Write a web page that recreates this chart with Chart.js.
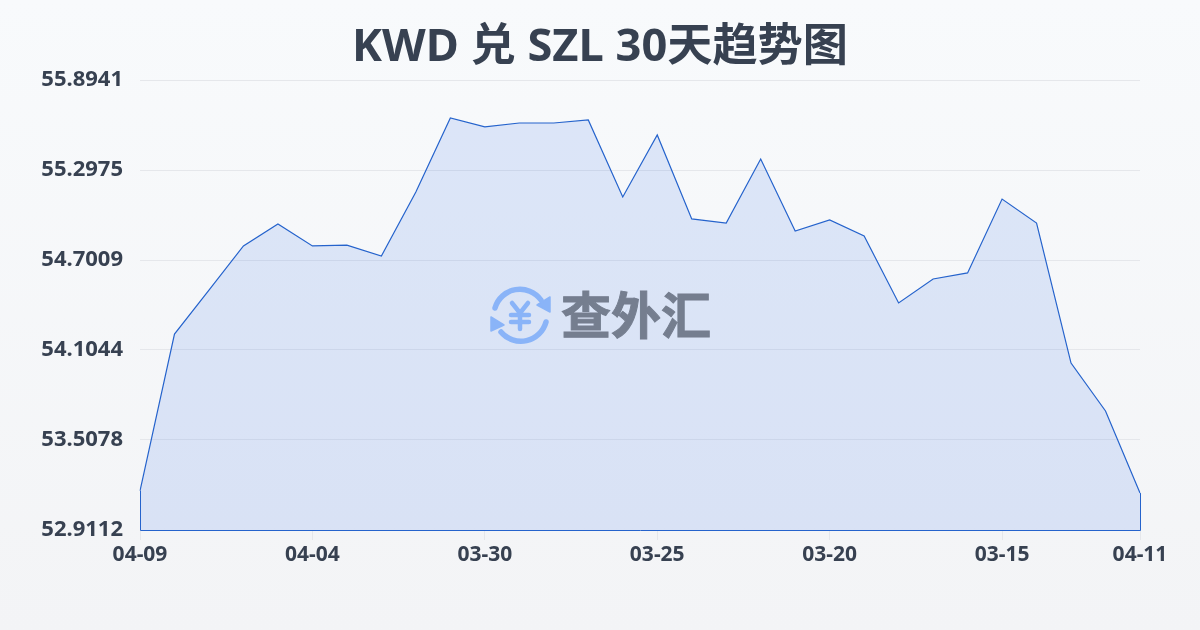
<!DOCTYPE html>
<html lang="zh">
<head>
<meta charset="utf-8">
<title>KWD 兑 SZL 30天趋势图</title>
<style>
  html, body { margin: 0; padding: 0; }
  body { width: 1200px; height: 630px; overflow: hidden; position: relative;
         background: linear-gradient(180deg, #f8fafc 0%, #f3f4f6 100%); }
  #trendChart { display: block; }
  #chartTitle { position: absolute; left: 0; top: 17px; width: 1200px; margin: 0; text-align: center;
                font: 700 45.2px/54px "Noto Sans", "Noto Sans CJK SC", sans-serif; color: #374151; }
  #watermark { position: absolute; left: 0; top: 0; pointer-events: none; }
</style>
</head>
<body>
<canvas id="trendChart" width="1200" height="630"></canvas>
<h1 id="chartTitle">KWD 兑 SZL 30天趋势图</h1>
<svg id="watermark" width="1200" height="630" xmlns="http://www.w3.org/2000/svg">
  <g fill="none" stroke="#8ab4f8" stroke-width="5.5" stroke-linecap="round" stroke-linejoin="round">
    <path d="M495 308 A26 26 0 0 1 541 300"/>
    <path d="M546 322 A26 26 0 0 1 501 332"/>
    <path d="M512 303 L520 313 L528 303 M511 315 H529 M511 322 H529 M520 313 V329" stroke-width="4.5"/>
  </g>
  <path d="M550 297 V312 L537 305 Z M491 317 V331 L504 325 Z" fill="#8ab4f8" stroke="#8ab4f8" stroke-width="1.5" stroke-linejoin="round"/>
  <text x="636" y="334" text-anchor="middle" font-family="Noto Sans CJK SC" font-weight="700" font-size="50" fill="#757e8f" stroke="#757e8f" stroke-width="1">查外汇</text>
</svg>

<script src="https://cdn.jsdelivr.net/npm/chart.js@4"></script>
<script>
const categories = [
  '04-09','04-08','04-07','04-06','04-05','04-04','04-03','04-02','04-01','03-31',
  '03-30','03-29','03-28','03-27','03-26','03-25','03-24','03-23','03-22','03-21',
  '03-20','03-19','03-18','03-17','03-16','03-15','03-14','03-13','03-12','04-11',
];
const rates = [
  53.170, 54.210, 54.502, 54.794, 54.940, 54.794, 54.800, 54.727, 55.152, 55.642,
  55.583, 55.609, 55.609, 55.629, 55.119, 55.530, 54.973, 54.946, 55.370, 54.893,
  54.966, 54.860, 54.416, 54.575, 54.615, 55.105, 54.946, 54.018, 53.700, 53.156,
];
const yTicks = [52.9112, 53.5078, 54.1044, 54.7009, 55.2975, 55.8941];
const xTickIndexes = [0, 5, 10, 15, 20, 25, 29];

const LINE = '#2563cc';
const INK = '#374151';
const FONT = '"Noto Sans", "Noto Sans CJK SC", sans-serif';

// line also runs down both sides and along the bottom of the area
const outline = {
  id: 'outline',
  afterDatasetsDraw(chart) {
    const { ctx, scales: { x, y } } = chart;
    const base = y.getPixelForValue(yTicks[0]) + 0.5;
    const last = rates.length - 1;
    const left = x.getPixelForValue(0) + 0.5;
    const right = x.getPixelForValue(last) + 0.5;
    ctx.save();
    ctx.strokeStyle = LINE;
    ctx.lineWidth = 1;
    ctx.beginPath();
    ctx.moveTo(left, y.getPixelForValue(rates[0]));
    ctx.lineTo(left, base);
    ctx.lineTo(right, base);
    ctx.lineTo(right, y.getPixelForValue(rates[last]));
    ctx.stroke();
    ctx.restore();
  },
};

new Chart(document.getElementById('trendChart'), {
  type: 'line',
  data: {
    labels: categories,
    datasets: [{
      data: rates,
      borderColor: LINE,
      borderWidth: 1.2,
      backgroundColor: 'rgba(37,99,235,.13)',
      fill: 'start',
      tension: 0,
      pointRadius: 0,
    }],
  },
  options: {
    responsive: false,
    animation: false,
    layout: { padding: { top: 80, right: 60 } },
    plugins: {
      legend: { display: false },
      tooltip: { enabled: false },
    },
    scales: {
      x: {
        type: 'category',
        offset: false,
        border: { display: false },
        grid: { drawOnChartArea: false, tickLength: 10, color: '#e5e7eb' },
        afterBuildTicks: s => { s.ticks = xTickIndexes.map(i => ({ value: i })); },
        afterFit: s => { s.height = 100; },
        ticks: {
          autoSkip: false, maxRotation: 0, color: INK, padding: 2,
          font: { family: FONT, size: 21, weight: '700' },
          callback: i => categories[i],
        },
      },
      y: {
        min: yTicks[0],
        max: yTicks[yTicks.length - 1],
        border: { display: false },
        grid: { drawTicks: false, color: '#e5e7eb' },
        afterBuildTicks: s => { s.ticks = yTicks.map(v => ({ value: v })); },
        afterFit: s => { s.width = 140; },
        ticks: {
          color: INK, padding: 17,
          font: { family: FONT, size: 22, weight: '700' },
          callback: v => v.toFixed(4),
        },
      },
    },
  },
  plugins: [outline],
});
</script>
</body>
</html>
